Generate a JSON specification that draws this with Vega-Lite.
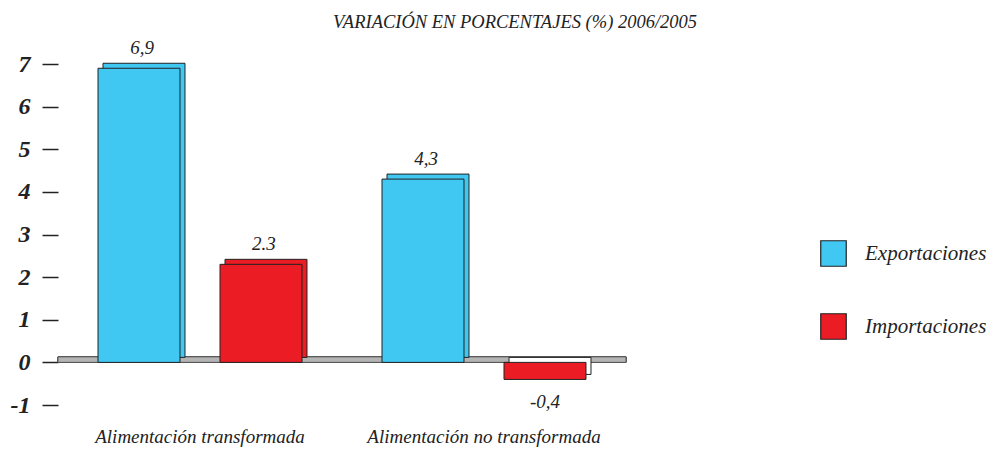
{
  "$schema": "https://vega.github.io/schema/vega-lite/v6.json",
  "autosize": "none",
  "width": 568,
  "height": 341,
  "padding": {"left": 58, "top": 64, "right": 362, "bottom": 45},
  "background": "white",
  "title": {
    "text": "VARIACIÓN EN PORCENTAJES (%) 2006/2005",
    "font": "Liberation Serif",
    "fontSize": 18.5,
    "fontStyle": "italic",
    "fontWeight": "normal",
    "color": "#222",
    "anchor": "middle",
    "frame": "group",
    "dx": 173,
    "offset": 8
  },
  "data": {
    "values": [
      {"cat": "Alimentación transformada", "serie": "Exportaciones", "v": 6.9, "label": "6,9"},
      {"cat": "Alimentación transformada", "serie": "Importaciones", "v": 2.3, "label": "2.3"},
      {"cat": "Alimentación no transformada", "serie": "Exportaciones", "v": 4.3, "label": "4,3"},
      {"cat": "Alimentación no transformada", "serie": "Importaciones", "v": -0.4, "label": "-0,4"}
    ]
  },
  "encoding": {
    "x": {
      "field": "cat", "type": "nominal", "sort": null,
      "scale": {"paddingInner": 0, "paddingOuter": 0},
      "axis": {
        "title": null, "domain": false, "ticks": false, "labelAngle": 0, "labelLimit": 0,
        "labelFont": "Liberation Serif", "labelFontStyle": "italic", "labelFontSize": 19,
        "labelColor": "#222", "labelPadding": 22
      }
    },
    "y": {
      "field": "v", "type": "quantitative",
      "scale": {"domain": [-1, 7], "nice": false, "zero": false},
      "axis": {
        "title": null, "domain": false, "grid": false,
        "values": [-1, 0, 1, 2, 3, 4, 5, 6, 7],
        "labelExpr": "replace(datum.label, '−', '-')",
        "tickSize": 16, "tickColor": "#222", "tickWidth": 1.5,
        "labelPadding": 12,
        "labelFont": "Liberation Serif", "labelFontStyle": "italic", "labelFontWeight": "bold",
        "labelFontSize": 24, "labelColor": "#222"
      }
    }
  },
  "layer": [
    {
      "mark": {"type": "rect", "fill": "#b4b4b4", "stroke": "#444", "strokeWidth": 0.8},
      "encoding": {
        "x": null,
        "y": {"datum": 0.13, "type": "quantitative"},
        "y2": {"datum": 0}
      }
    },
    {
      "mark": {"type": "bar", "stroke": "#222", "strokeWidth": 1, "yOffset": -5, "y2Offset": -5},
      "encoding": {
        "xOffset": {"field": "serie", "type": "nominal", "scale": {"paddingInner": 0.328, "paddingOuter": 0.328, "align": 0.5625}},
        "y2": {"datum": 0},
        "color": {
          "condition": {"test": "datum.v < 0", "value": "white"},
          "field": "serie", "type": "nominal",
          "scale": {"domain": ["Exportaciones", "Importaciones"], "range": ["#41C8F2", "#EC1C24"]}
        }
      }
    },
    {
      "encoding": {
        "xOffset": {"field": "serie", "type": "nominal", "scale": {"paddingInner": 0.328, "paddingOuter": 0.328}}
      },
      "layer": [
        {
          "mark": {"type": "bar", "stroke": "#222", "strokeWidth": 1},
          "encoding": {
            "y2": {"datum": 0},
            "color": {
              "field": "serie", "type": "nominal",
              "scale": {"domain": ["Exportaciones", "Importaciones"], "range": ["#41C8F2", "#EC1C24"]},
              "legend": {
                "title": null, "orient": "none", "legendX": 762, "legendY": 176,
                "symbolType": "square", "symbolSize": 650, "symbolStrokeColor": "#222", "symbolStrokeWidth": 1.2,
                "labelFont": "Liberation Serif", "labelFontStyle": "italic", "labelFontSize": 21,
                "labelColor": "#222", "labelOffset": 18, "rowPadding": 42
              }
            }
          }
        },
        {
          "transform": [{"filter": "datum.v >= 0"}],
          "mark": {"type": "text", "font": "Liberation Serif", "fontStyle": "italic", "fontSize": 19, "color": "#222", "baseline": "bottom", "dx": 3, "dy": -10},
          "encoding": {"text": {"field": "label"}}
        },
        {
          "transform": [{"filter": "datum.v < 0"}],
          "mark": {"type": "text", "font": "Liberation Serif", "fontStyle": "italic", "fontSize": 19, "color": "#222", "baseline": "middle", "dy": 23},
          "encoding": {"text": {"field": "label"}}
        }
      ]
    }
  ],
  "resolve": {"scale": {"xOffset": "independent"}},
  "config": {"view": {"stroke": null}}
}
